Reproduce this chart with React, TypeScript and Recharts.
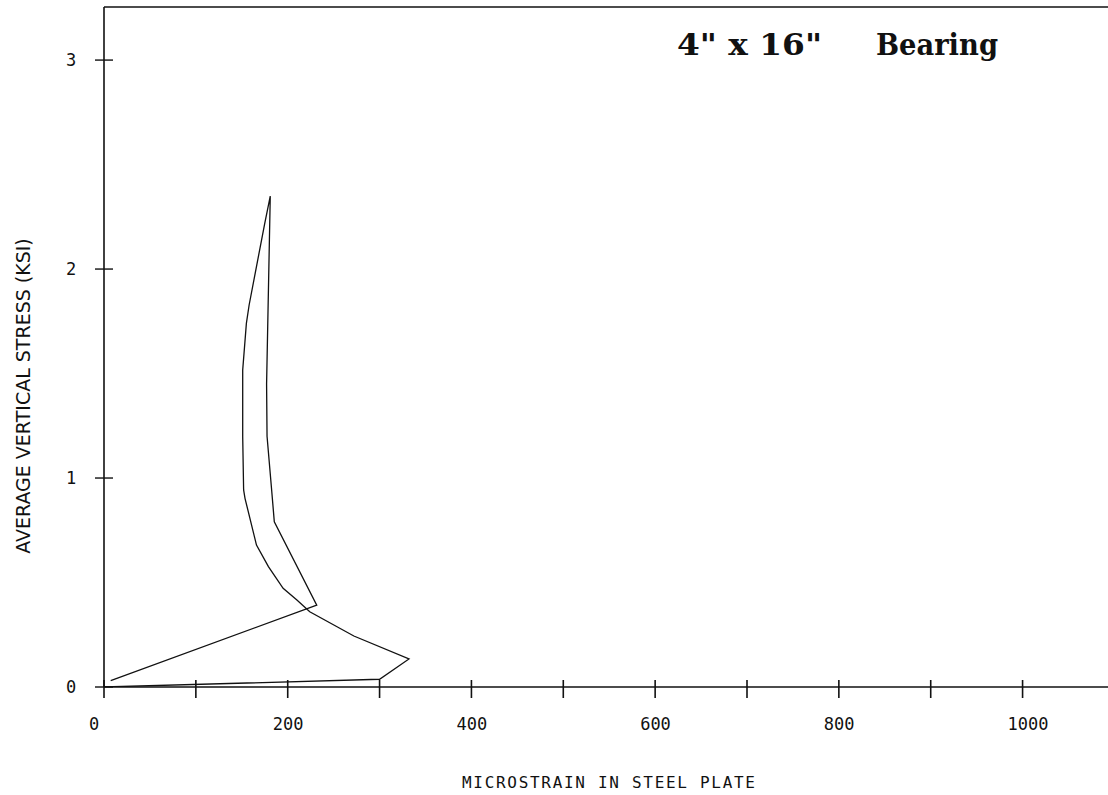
import React from "react";
import {
  Label,
  Line,
  LineChart,
  ReferenceLine,
  XAxis,
  YAxis,
} from "recharts";

// Loading loop, in drawing order
const STRAIN = [
  0, 300, 332, 272, 224, 210, 195, 179, 166, 153.5, 152, 151, 151, 155, 158,
  175, 181, 177, 177.5, 182.5, 185.4, 231.6, 7.3,
];
const STRESS = [
  0, 0.037, 0.134, 0.244, 0.36, 0.416, 0.472, 0.576, 0.679, 0.903, 0.943,
  1.198, 1.517, 1.74, 1.828, 2.219, 2.349, 1.45, 1.2, 0.943, 0.791, 0.392,
  0.03,
];

const X_TICKS = [0, 100, 200, 300, 400, 500, 600, 700, 800, 900, 1000];
const Y_TICKS = [0, 1, 2, 3];
const X_MAX = 1093;
const Y_MAX = 3.254;

const data = STRAIN.map((x, i) => ({ x, y: STRESS[i] }));

const tickFont = {
  fontFamily: "'DejaVu Sans Mono', monospace",
  fontSize: 17,
  fill: "#111",
};

const titleFont = {
  fontFamily: "'DejaVu Serif', 'Liberation Serif', serif",
  fontWeight: "bold" as const,
  fontSize: 30,
  fill: "#111",
};

const XTick = (props: any) => {
  const { x, y, payload } = props;
  const v = payload.value;
  return (
    <g>
      <line x1={x} x2={x} y1={y - 7} y2={y + 11} stroke="#111" strokeWidth={1.6} />
      {v % 200 === 0 && (
        <text x={x - 15} y={y + 37} dominantBaseline="central" {...tickFont}>
          {v}
        </text>
      )}
    </g>
  );
};

const YTick = (props: any) => {
  const { x, y, payload } = props;
  return (
    <g>
      <line x1={x - 9} x2={x + 9} y1={y} y2={y} stroke="#111" strokeWidth={1.4} />
      <text
        x={x - 33}
        y={y}
        textAnchor="middle"
        dominantBaseline="central"
        {...tickFont}
      >
        {payload.value}
      </text>
    </g>
  );
};

const App: React.FC = () => {
  return (
    <div
      style={{
        position: "absolute",
        left: 0,
        top: 0,
        width: 1108,
        height: 795,
        background: "#fff",
      }}
    >
      <LineChart
        width={1108}
        height={795}
        data={data}
        margin={{ top: 7, right: 0, left: 0, bottom: 0 }}
      >
        <XAxis
          type="number"
          dataKey="x"
          domain={[0, X_MAX]}
          ticks={X_TICKS}
          interval={0}
          allowDataOverflow
          height={108}
          tickSize={0}
          tickMargin={0}
          tickLine={false}
          tick={<XTick />}
          axisLine={{ stroke: "#111", strokeWidth: 1.6 }}
        >
          <Label
            content={() => (
              <text
                x={462}
                y={788}
                fontFamily="'DejaVu Sans Mono', monospace"
                fontSize={16}
                letterSpacing={1.7}
                fill="#111"
              >
                MICROSTRAIN IN STEEL PLATE
              </text>
            )}
          />
        </XAxis>
        <YAxis
          type="number"
          domain={[0, Y_MAX]}
          ticks={Y_TICKS}
          interval={0}
          allowDataOverflow
          width={104}
          tickSize={0}
          tickMargin={0}
          tickLine={false}
          tick={<YTick />}
          axisLine={{ stroke: "#111", strokeWidth: 1.6 }}
        >
          <Label
            content={() => (
              <text
                x={23}
                y={396}
                transform="rotate(-90 23 396)"
                textAnchor="middle"
                dominantBaseline="central"
                fontFamily="'DejaVu Sans', sans-serif"
                fontSize={19}
                fill="#111"
              >
                AVERAGE VERTICAL STRESS (KSI)
              </text>
            )}
          />
        </YAxis>
        <ReferenceLine y={Y_MAX} stroke="#111" strokeWidth={1.6} />
        <Line
          type="linear"
          dataKey="y"
          stroke="#111"
          strokeWidth={1.3}
          dot={false}
          activeDot={false}
          isAnimationActive={false}
        />
        <text
          x={677}
          y={55}
          textLength={145}
          lengthAdjust="spacingAndGlyphs"
          {...titleFont}
        >
          4" x 16"
        </text>
        <text
          x={876}
          y={55}
          textLength={122}
          lengthAdjust="spacingAndGlyphs"
          {...titleFont}
        >
          Bearing
        </text>
      </LineChart>
    </div>
  );
};

export default App;
